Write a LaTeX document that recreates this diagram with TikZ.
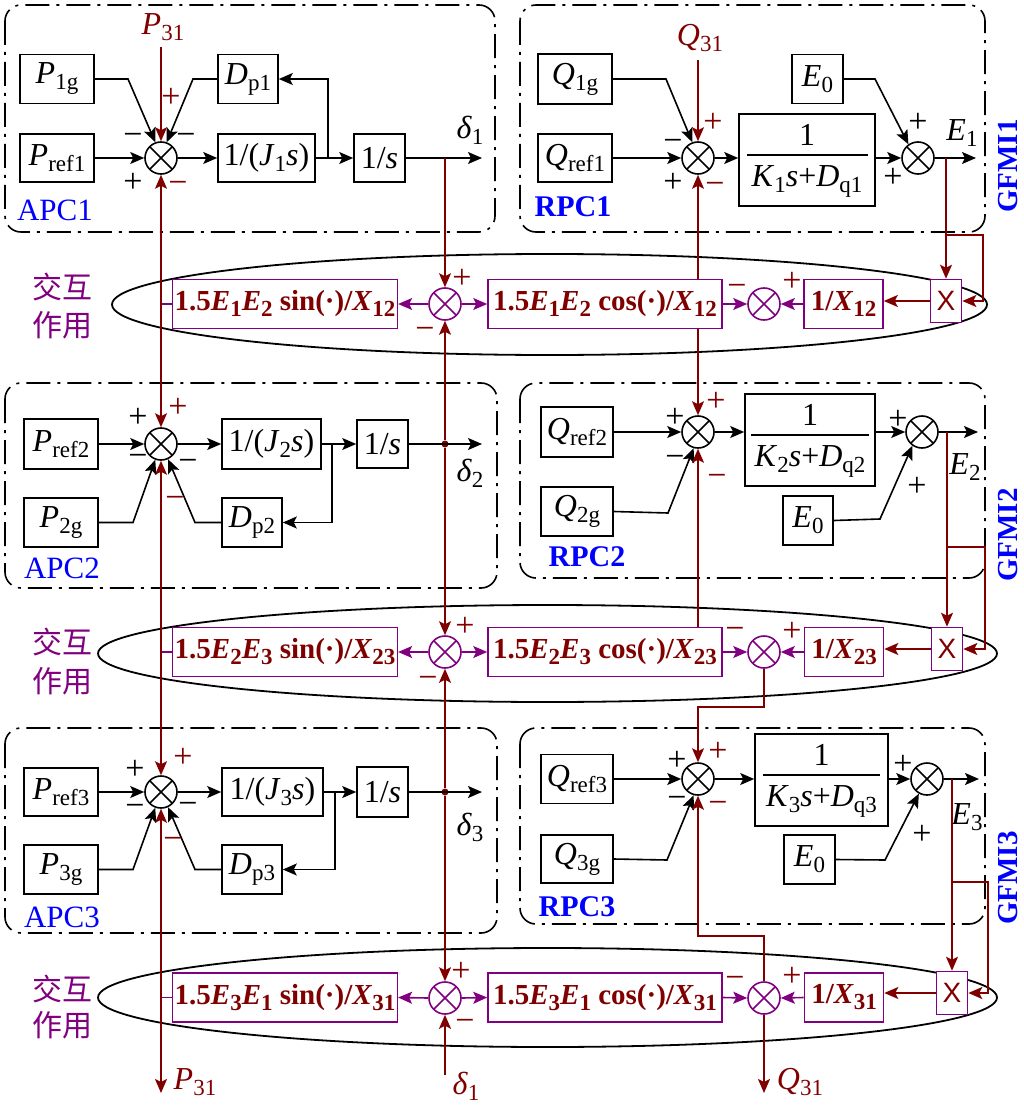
\documentclass[tikz,border=0pt]{standalone}
\usepackage{fontspec}
\setmainfont{Liberation Serif}
\newfontfamily\cjk{Noto Sans CJK SC}
\newfontfamily\xsans{Liberation Sans}
\usetikzlibrary{arrows.meta}
\definecolor{dred}{RGB}{128,0,0}
\definecolor{purp}{RGB}{128,0,128}
\definecolor{lblue}{RGB}{0,0,255}
\newcommand\fm{\fontsize{32}{36}\selectfont}
\newcommand\fr{\fontsize{29}{33}\selectfont\bfseries}
\newcommand\fsg{\fontsize{34}{34}\selectfont}
\newcommand\sbm[1]{\raisebox{-6pt}{\fontsize{23}{23}\selectfont\upshape #1}}
\newcommand\vi[1]{\textit{#1}}
\pgfdeclarelayer{bg}
\pgfsetlayers{bg,main}
\begin{document}
\begin{tikzpicture}[x=1pt,y=-1pt,
 blk/.style={draw, line width=1.6pt, fill=white, inner sep=2pt, font=\fm},
 rbox/.style={draw=purp, line width=1.6pt, fill=white, text=dred, inner sep=2pt, font=\fr, minimum height=49pt},
 xbox/.style={draw=purp, line width=1.6pt, fill=white, text=dred, minimum width=31pt, minimum height=43pt, inner sep=0pt, font=\xsans\fontsize{28}{28}\selectfont},
 sumb/.style={circle, draw, line width=1.6pt, fill=white, minimum size=32pt, inner sep=0pt,
   path picture={\draw[line width=1.6pt] (path picture bounding box.north west)--(path picture bounding box.south east) (path picture bounding box.north east)--(path picture bounding box.south west);}},
 sump/.style={circle, draw=purp, line width=1.6pt, fill=white, minimum size=32pt, inner sep=0pt,
   path picture={\draw[purp,line width=1.6pt] (path picture bounding box.north west)--(path picture bounding box.south east) (path picture bounding box.north east)--(path picture bounding box.south west);}},
 grp/.style={draw, line width=1.6pt, rounded corners=16pt, dash pattern=on 24pt off 7pt on 3pt off 7pt},
 inter/.style={draw, line width=1.8pt},
 arr/.style={line width=1.6pt, -{Stealth[length=14pt,width=12pt,inset=3pt]}},
 barr/.style={arr, black}, rarr/.style={arr, dred}, parr/.style={arr, purp},
 rline/.style={line width=1.6pt, dred}, pline/.style={line width=1.6pt, purp}, bline/.style={line width=1.6pt},
 sg/.style={font=\fsg, inner sep=0pt},
 rsg/.style={sg, text=dred},
 tlab/.style={font=\fm},
 apclab/.style={text=lblue, font=\fontsize{31}{31}\selectfont},
 rpclab/.style={text=lblue, font=\fontsize{30}{30}\selectfont\bfseries},
 gfmlab/.style={text=lblue, font=\fontsize{29}{29}\selectfont\bfseries, rotate=90, inner sep=0pt},
 cjklab/.style={text=purp, font=\cjk\fontsize{30}{30}\selectfont},
 dotn/.style={circle, fill=dred, inner sep=0pt, minimum size=7pt}
]
\useasboundingbox (0,0) rectangle (1024,1107);

\begin{pgfonlayer}{bg}
\draw[grp] (5,5) rectangle (495,232);
\draw[grp] (520,5) rectangle (985,232);
\draw[grp] (5,383) rectangle (497,588);
\draw[grp] (520,383) rectangle (985,578);
\draw[grp] (5,728) rectangle (497,933);
\draw[grp] (520,728) rectangle (985,924);
\draw[inter] (549.5,304.5) ellipse [x radius=437.5, y radius=50.5];
\draw[inter] (547.5,653.5) ellipse [x radius=449.5, y radius=48.5];
\draw[inter] (547.5,997.5) ellipse [x radius=449.5, y radius=49.5];
\end{pgfonlayer}

% ---------------- APC1 ----------------
\node[blk, minimum width=74pt, minimum height=49pt] (P1g) at (57,79) {\vi{P}\sbm{1g}};
\node[blk, minimum width=74pt, minimum height=48pt] (Pref1) at (57,158) {\vi{P}\sbm{ref1}};
\node[sumb] (s1) at (161,158) {};
\node[blk, minimum width=60pt, minimum height=49pt] (Dp1) at (248,79) {\vi{D}\sbm{p1}};
\node[blk, minimum width=97pt, minimum height=48pt] (J1) at (266.5,158) {1/(\vi{J}\sbm{1}\vi{s})};
\node[blk, minimum width=51pt, minimum height=48pt] (I1) at (379.5,158) {1/\vi{s}};
\coordinate (d1) at (445,158);
\coordinate (d1o) at (482,158);
\coordinate (fb1) at (328,158);
\node[tlab] (ld1) at (470,130) {\vi{δ}\sbm{1}};
\node[tlab, text=dred] (lP31t) at (163,27) {\vi{P}\sbm{31}};
\node[apclab] (APC1) at (55,210) {APC1};
\draw[barr] (Pref1.east) -- (s1.west);
\draw[barr] (s1.east) -- (J1.west);
\draw[barr] (J1.east) -- (I1.west);
\draw[barr] (I1.east) -- (d1o);
\draw[barr] (fb1) -- (fb1 |- Dp1.east) -- (Dp1.east);
\draw[barr] (Dp1.west) -- (193,79) -- (s1.70);
\draw[barr] (P1g.east) -- (128,79) -- (s1.110);
\draw[rarr] (s1 |- 0,47) -- (s1.north);
\node[sg] (g1a) at (133,139) {−};
\node[rsg] (g1b) at (171,98) {+};
\node[sg] (g1c) at (186,139) {−};
\node[sg] (g1d) at (133,183) {+};
\node[rsg] (g1e) at (178,187) {−};

% ---------------- RPC1 ----------------
\node[blk, minimum width=74pt, minimum height=50pt] (Q1g) at (575,79) {\vi{Q}\sbm{1g}};
\node[blk, minimum width=74pt, minimum height=48pt] (Qref1) at (575,158) {\vi{Q}\sbm{ref1}};
\node[sumb] (r1) at (698,158) {};
\node[blk, minimum width=136pt, minimum height=92pt] (F1) at (807,160) {};
\node[font=\fm, inner sep=0pt] (F1n) at (807,135) {1};
\node[font=\fm, inner sep=0pt] (F1d) at (807,181) {\vi{K}\sbm{1}\vi{s}+\vi{D}\sbm{q1}};
\draw[bline] (747,155) -- (868,155);
\node[blk, minimum width=51pt, minimum height=49pt] (E01) at (817.5,79) {\vi{E}\sbm{0}};
\node[sumb] (t1) at (918,158) {};
\coordinate (e1b) at (946,158);
\coordinate (e1o) at (976,158);
\node[tlab] (lE1) at (962,133) {\vi{E}\sbm{1}};
\node[tlab, text=dred] (lQ31t) at (700,38) {\vi{Q}\sbm{31}};
\node[rpclab] (RPC1) at (573,207) {RPC1};
\node[gfmlab] (GF1) at (1008,166) {GFMI1};
\draw[barr] (Qref1.east) -- (r1.west);
\draw[barr] (r1.east) -- (r1.east -| F1.west);
\draw[barr] (t1.west -| F1.east) -- (t1.west);
\draw[barr] (t1.east) -- (e1o);
\draw[barr] (Q1g.east) -- (666,79) -- (r1.110);
\draw[barr] (E01.east) -- (875,79) -- (t1.125);
\draw[rarr] (r1 |- 0,60) -- (r1.north);
\node[sg] (h1a) at (673,145) {−};
\node[rsg] (h1b) at (713,123) {+};
\node[sg] (h1c) at (673,183) {+};
\node[rsg] (h1d) at (715,188) {−};
\node[sg] (h1e) at (918,123) {+};
\node[sg] (h1f) at (893,178) {+};

% ---------------- Row 1 ----------------
\node[rbox, minimum width=224pt] (sin12) at (285,304) {1.5\vi{E}\sbm{1}\vi{E}\sbm{2} sin(·)/\vi{X}\sbm{12}};
\node[sump] (a1) at (445,304) {};
\node[rbox, minimum width=234pt] (cos12) at (605,304) {1.5\vi{E}\sbm{1}\vi{E}\sbm{2} cos(·)/\vi{X}\sbm{12}};
\node[sump] (b1) at (764,304) {};
\node[rbox, minimum width=79pt] (ix12) at (843.5,304) {1/\vi{X}\sbm{12}};
\node[xbox] (m1) at (946,301) {X};
\node[cjklab] (c1a) at (62,287) {交互};
\node[cjklab] (c1b) at (62,325) {作用};
\coordinate (pj1) at (161,304);
\coordinate (qj1) at (698,304);
\draw[parr] (a1.west) -- (sin12.east);
\draw[parr] (a1.east) -- (cos12.west);
\draw[parr] (cos12.east) -- (b1.west);
\draw[parr] (ix12.west) -- (b1.east);
\draw[rarr] (m1.west) -- (m1.west -| ix12.east);
\draw[pline] (sin12.west) -- (pj1);
\draw[rarr] (d1) -- (a1.north);
\draw[rarr] (e1b) -- (m1.north);
\draw[rarr] (e1b |- 0,235) -- (983,235) -- (983,301) -- (m1.east);
\node[rsg] (k1a) at (462,279) {+};
\node[rsg] (k1b) at (425,333) {−};
\node[rsg] (k1c) at (737,290) {−};
\node[rsg] (k1d) at (792,282) {+};

% ---------------- APC2 ----------------
\node[blk, minimum width=74pt, minimum height=50pt] (Pref2) at (61,444) {\vi{P}\sbm{ref2}};
\node[sumb] (s2) at (161,444) {};
\node[blk, minimum width=99pt, minimum height=50pt] (J2) at (271.5,444) {1/(\vi{J}\sbm{2}\vi{s})};
\node[blk, minimum width=51pt, minimum height=48pt] (I2) at (382.5,444) {1/\vi{s}};
\node[blk, minimum width=74pt, minimum height=49pt] (P2g) at (61,522.5) {\vi{P}\sbm{2g}};
\node[blk, minimum width=60pt, minimum height=49pt] (Dp2) at (252,522.5) {\vi{D}\sbm{p2}};
\node[dotn] (d2) at (445,444) {};
\coordinate (d2o) at (482,444);
\coordinate (fb2) at (332,444);
\node[tlab] (ld2) at (470,473) {\vi{δ}\sbm{2}};
\node[apclab] (APC2) at (62,568) {APC2};
\draw[barr] (Pref2.east) -- (s2.west);
\draw[barr] (s2.east) -- (J2.west);
\draw[barr] (J2.east) -- (I2.west);
\draw[barr] (I2.east) -- (d2o);
\draw[barr] (fb2) -- (fb2 |- Dp2.east) -- (Dp2.east);
\draw[barr] (Dp2.west) -- (195,522.5) -- (s2.-65);
\draw[barr] (P2g.east) -- (133,522.5) -- (s2.-110);
\draw[rarr] (pj1) -- (s1.south);
\draw[rarr] (pj1) -- (s2.north);
\draw[rarr] (d2) -- (a1.south);
\node[sg] (g2a) at (138,418) {+};
\node[sg] (g2b) at (138,460) {−};
\node[rsg] (g2c) at (178,408) {+};
\node[sg] (g2d) at (188,465) {−};
\node[rsg] (g2e) at (175,502) {−};

% ---------------- RPC2 ----------------
\node[blk, minimum width=72pt, minimum height=50pt] (Qref2) at (577,432) {\vi{Q}\sbm{ref2}};
\node[sumb] (r2) at (698,432) {};
\node[blk, minimum width=130pt, minimum height=92pt] (F2) at (810,440) {};
\node[font=\fm, inner sep=0pt] (F2n) at (810,415) {1};
\node[font=\fm, inner sep=0pt] (F2d) at (810,461) {\vi{K}\sbm{2}\vi{s}+\vi{D}\sbm{q2}};
\draw[bline] (751,435) -- (869,435);
\node[blk, minimum width=72pt, minimum height=49pt] (Q2g) at (577,511.5) {\vi{Q}\sbm{2g}};
\node[blk, minimum width=50pt, minimum height=49pt] (E02) at (808,520.5) {\vi{E}\sbm{0}};
\node[sumb] (t2) at (922,432) {};
\coordinate (e2b) at (947,432);
\coordinate (e2o) at (978,432);
\node[tlab] (lE2) at (965,467) {\vi{E}\sbm{2}};
\node[rpclab] (RPC2) at (587,557) {RPC2};
\node[gfmlab] (GF2) at (1008,535) {GFMI2};
\draw[barr] (Qref2.east) -- (r2.west);
\draw[barr] (r2.east) -- (r2.east -| F2.west);
\draw[barr] (t2.west -| F2.east) -- (t2.west);
\draw[barr] (t2.east) -- (e2o);
\draw[barr] (Q2g.east) -- (668,513) -- (r2.-105);
\draw[barr] (E02.east) -- (880,519) -- (t2.-125);
\node[sg] (h2a) at (675,418) {+};
\node[sg] (h2b) at (675,461) {−};
\node[rsg] (h2c) at (716,402) {+};
\node[rsg] (h2d) at (717,480) {−};
\node[sg] (h2e) at (898,420) {+};
\node[sg] (h2f) at (917,487) {+};

% ---------------- Row 2 ----------------
\node[rbox, minimum width=224pt] (sin23) at (285,652) {1.5\vi{E}\sbm{2}\vi{E}\sbm{3} sin(·)/\vi{X}\sbm{23}};
\node[sump] (a2) at (445,652) {};
\node[rbox, minimum width=234pt] (cos23) at (605,652) {1.5\vi{E}\sbm{2}\vi{E}\sbm{3} cos(·)/\vi{X}\sbm{23}};
\node[sump] (b2) at (764,652) {};
\node[rbox, minimum width=79pt] (ix23) at (844,652) {1/\vi{X}\sbm{23}};
\node[xbox] (m2) at (947,649) {X};
\node[cjklab] (c2a) at (62,642) {交互};
\node[cjklab] (c2b) at (62,681) {作用};
\coordinate (pj2) at (161,652);
\draw[parr] (a2.west) -- (sin23.east);
\draw[parr] (a2.east) -- (cos23.west);
\draw[parr] (cos23.east) -- (b2.west);
\draw[parr] (ix23.west) -- (b2.east);
\draw[rarr] (m2.west) -- (m2.west -| ix23.east);
\draw[pline] (sin23.west) -- (pj2);
\draw[rarr] (d2) -- (a2.north);
\draw[rarr] (e2b) -- (m2.north);
\draw[rarr] (e2b |- 0,547) -- (985,547) -- (985,649) -- (m2.east);
\draw[rarr] (r2.south |- cos23.north) -- (r2.south);
\node[rsg] (k2a) at (465,627) {+};
\node[rsg] (k2b) at (428,682) {−};
\node[rsg] (k2c) at (735,633) {−};
\node[rsg] (k2d) at (792,632) {+};

% ---------------- APC3 ----------------
\node[blk, minimum width=74pt, minimum height=48pt] (Pref3) at (61,792) {\vi{P}\sbm{ref3}};
\node[sumb] (s3) at (161,792) {};
\node[blk, minimum width=101pt, minimum height=48pt] (J3) at (272.5,792) {1/(\vi{J}\sbm{3}\vi{s})};
\node[blk, minimum width=51pt, minimum height=50pt] (I3) at (382.5,792) {1/\vi{s}};
\node[blk, minimum width=74pt, minimum height=49pt] (P3g) at (61,869.5) {\vi{P}\sbm{3g}};
\node[blk, minimum width=60pt, minimum height=49pt] (Dp3) at (252,869.5) {\vi{D}\sbm{p3}};
\node[dotn] (d3) at (445,792) {};
\coordinate (d3o) at (482,792);
\coordinate (fb3) at (335,792);
\node[tlab] (ld3) at (470,827) {\vi{δ}\sbm{3}};
\node[apclab] (APC3) at (62,917) {APC3};
\draw[barr] (Pref3.east) -- (s3.west);
\draw[barr] (s3.east) -- (J3.west);
\draw[barr] (J3.east) -- (I3.west);
\draw[barr] (I3.east) -- (d3o);
\draw[barr] (fb3) -- (fb3 |- Dp3.east) -- (Dp3.east);
\draw[barr] (Dp3.west) -- (195,869.5) -- (s3.-65);
\draw[barr] (P3g.east) -- (133,869.5) -- (s3.-110);
\draw[rarr] (pj2) -- (s2.south);
\draw[rarr] (pj2) -- (s3.north);
\draw[rarr] (d3) -- (a2.south);
\node[sg] (g3a) at (135,770) {+};
\node[sg] (g3b) at (135,810) {−};
\node[rsg] (g3c) at (183,758) {+};
\node[sg] (g3d) at (188,808) {−};
\node[rsg] (g3e) at (173,843) {−};

% ---------------- RPC3 ----------------
\node[blk, minimum width=72pt, minimum height=49pt] (Qref3) at (577,779) {\vi{Q}\sbm{ref3}};
\node[sumb] (r3) at (698,779) {};
\node[blk, minimum width=133pt, minimum height=92pt] (F3) at (821.5,780) {};
\node[font=\fm, inner sep=0pt] (F3n) at (821.5,755) {1};
\node[font=\fm, inner sep=0pt] (F3d) at (821.5,801) {\vi{K}\sbm{3}\vi{s}+\vi{D}\sbm{q3}};
\draw[bline] (763,775) -- (880,775);
\node[blk, minimum width=72pt, minimum height=48pt] (Q3g) at (577,859) {\vi{Q}\sbm{3g}};
\node[blk, minimum width=51pt, minimum height=49pt] (E03) at (809.5,859.5) {\vi{E}\sbm{0}};
\node[sumb] (t3) at (927,779) {};
\coordinate (e3b) at (952,779);
\coordinate (e3o) at (979,779);
\node[tlab] (lE3) at (967,817) {\vi{E}\sbm{3}};
\node[rpclab] (RPC3) at (577,907) {RPC3};
\node[gfmlab] (GF3) at (1008,878) {GFMI3};
\draw[barr] (Qref3.east) -- (r3.west);
\draw[barr] (r3.east) -- (r3.east -| F3.west);
\draw[barr] (t3.west -| F3.east) -- (t3.west);
\draw[barr] (t3.east) -- (e3o);
\draw[barr] (Q3g.east) -- (667,860) -- (r3.-105);
\draw[barr] (E03.east) -- (885,860) -- (t3.-119);
\draw[rarr] (b2.south) -- (764,707) -- (698,707) -- (r3.north);
\node[sg] (h3a) at (677,761) {+};
\node[sg] (h3b) at (677,802) {−};
\node[rsg] (h3c) at (718,752) {+};
\node[rsg] (h3d) at (718,807) {−};
\node[sg] (h3e) at (903,765) {+};
\node[sg] (h3f) at (922,835) {+};

% ---------------- Row 3 ----------------
\node[rbox, minimum width=224pt] (sin31) at (285,997.5) {1.5\vi{E}\sbm{3}\vi{E}\sbm{1} sin(·)/\vi{X}\sbm{31}};
\node[sump] (a3) at (445,998) {};
\node[rbox, minimum width=234pt] (cos31) at (605,997.5) {1.5\vi{E}\sbm{3}\vi{E}\sbm{1} cos(·)/\vi{X}\sbm{31}};
\node[sump] (b3) at (764,998) {};
\node[rbox, minimum width=79pt] (ix31) at (844,997.5) {1/\vi{X}\sbm{31}};
\node[xbox] (m3) at (952,993) {X};
\node[cjklab] (c3a) at (62,989) {交互};
\node[cjklab] (c3b) at (62,1025) {作用};
\coordinate (pj3) at (161,997.5);
\coordinate (p31e) at (161,1093);
\coordinate (d1s) at (445,1075);
\coordinate (q31e) at (764,1093);
\node[tlab, text=dred] (lP31b) at (195,1082) {\vi{P}\sbm{31}};
\node[tlab, text=dred] (ld1b) at (466,1086) {\vi{δ}\sbm{1}};
\node[tlab, text=dred] (lQ31b) at (800,1082) {\vi{Q}\sbm{31}};
\draw[parr] (a3.west) -- (sin31.east);
\draw[parr] (a3.east) -- (cos31.west);
\draw[parr] (cos31.east) -- (b3.west);
\draw[parr] (ix31.west) -- (b3.east);
\draw[rarr] (m3.west) -- (m3.west -| ix31.east);
\draw[pline] (sin31.west) -- (pj3);
\draw[rarr] (d3) -- (a3.north);
\draw[rarr] (d1s) -- (a3.south);
\draw[rarr] (e3b) -- (m3.north);
\draw[rarr] (e3b |- 0,882) -- (988,882) -- (988,993) -- (m3.east);
\draw[rarr] (pj3) -- (s3.south);
\draw[rarr] (pj3) -- (p31e);
\draw[rarr] (b3.north) -- (764,936) -- (698,936) -- (r3.south);
\draw[rarr] (b3.south) -- (q31e);
\node[rsg] (k3a) at (461,972) {+};
\node[rsg] (k3b) at (465,1025) {−};
\node[rsg] (k3c) at (735,982) {−};
\node[rsg] (k3d) at (792,977) {+};

\begin{pgfonlayer}{bg}
\draw[rarr] (qj1) -- (r1.south);
\draw[rarr] (qj1) -- (r2.north);
\end{pgfonlayer}
\end{tikzpicture}
\end{document}
